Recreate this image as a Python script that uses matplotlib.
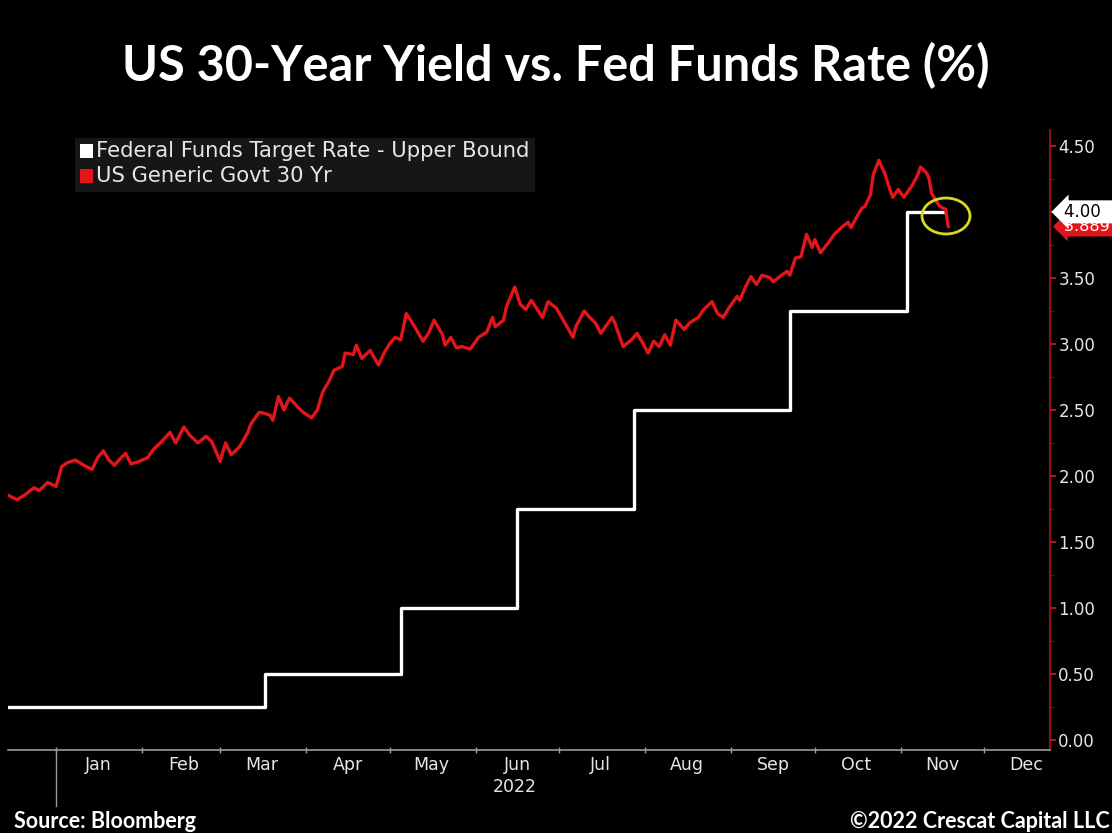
import matplotlib
matplotlib.use("Agg")
import matplotlib.pyplot as plt
import matplotlib.dates as mdates
from matplotlib.patches import Circle, Rectangle
from matplotlib.lines import Line2D
import numpy as np
import pandas as pd

# ---------------------------------------------------------------------------
# Data
# ---------------------------------------------------------------------------
yield_dates = [
    "2021-12-15", "2021-12-18", "2021-12-21", "2021-12-24", "2021-12-26", "2021-12-29",
    "2022-01-01", "2022-01-03", "2022-01-05", "2022-01-08", "2022-01-11", "2022-01-14",
    "2022-01-16", "2022-01-18", "2022-01-20", "2022-01-22", "2022-01-24", "2022-01-26",
    "2022-01-28", "2022-01-31", "2022-02-03", "2022-02-05", "2022-02-08", "2022-02-11",
    "2022-02-13", "2022-02-16", "2022-02-18", "2022-02-21", "2022-02-24", "2022-02-26",
    "2022-03-01", "2022-03-03", "2022-03-05", "2022-03-08", "2022-03-11", "2022-03-12",
    "2022-03-15", "2022-03-16", "2022-03-19", "2022-03-20", "2022-03-22", "2022-03-24",
    "2022-03-26", "2022-03-29", "2022-03-31", "2022-04-03", "2022-04-05", "2022-04-07",
    "2022-04-09", "2022-04-11", "2022-04-14", "2022-04-15", "2022-04-18", "2022-04-19",
    "2022-04-21", "2022-04-24", "2022-04-27", "2022-04-29", "2022-05-01", "2022-05-03",
    "2022-05-05", "2022-05-07", "2022-05-10", "2022-05-13", "2022-05-15", "2022-05-17",
    "2022-05-20", "2022-05-21", "2022-05-23", "2022-05-25", "2022-05-27", "2022-05-30",
    "2022-06-02", "2022-06-05", "2022-06-07", "2022-06-08", "2022-06-11", "2022-06-12",
    "2022-06-15", "2022-06-17", "2022-06-19", "2022-06-21", "2022-06-25", "2022-06-27",
    "2022-06-30", "2022-07-03", "2022-07-06", "2022-07-07", "2022-07-10", "2022-07-12",
    "2022-07-14", "2022-07-16", "2022-07-20", "2022-07-21", "2022-07-24", "2022-07-27",
    "2022-07-29", "2022-07-31", "2022-08-02", "2022-08-04", "2022-08-06", "2022-08-08",
    "2022-08-10", "2022-08-12", "2022-08-15", "2022-08-17", "2022-08-20", "2022-08-22",
    "2022-08-25", "2022-08-27", "2022-08-29", "2022-08-31", "2022-09-03", "2022-09-04",
    "2022-09-06", "2022-09-08", "2022-09-10", "2022-09-12", "2022-09-15", "2022-09-16",
    "2022-09-19", "2022-09-21", "2022-09-22", "2022-09-24", "2022-09-26", "2022-09-28",
    "2022-09-30", "2022-10-01", "2022-10-03", "2022-10-06", "2022-10-08", "2022-10-11",
    "2022-10-13", "2022-10-14", "2022-10-16", "2022-10-18", "2022-10-19", "2022-10-21",
    "2022-10-22", "2022-10-24", "2022-10-26", "2022-10-28", "2022-10-29", "2022-10-31",
    "2022-11-02", "2022-11-05", "2022-11-07", "2022-11-08", "2022-11-10", "2022-11-11",
    "2022-11-12", "2022-11-14", "2022-11-15", "2022-11-17", "2022-11-18",
]
yield_30y = [
    1.85, 1.82, 1.86, 1.91, 1.89, 1.95,
    1.92, 2.07, 2.10, 2.12, 2.08, 2.05,
    2.14, 2.19, 2.12, 2.08, 2.13, 2.17,
    2.09, 2.11, 2.14, 2.20, 2.26, 2.33,
    2.25, 2.37, 2.31, 2.25, 2.30, 2.26,
    2.11, 2.25, 2.16, 2.22, 2.33, 2.39,
    2.48, 2.48, 2.46, 2.42, 2.60, 2.50,
    2.59, 2.52, 2.48, 2.44, 2.50, 2.64,
    2.71, 2.80, 2.83, 2.93, 2.92, 2.99,
    2.89, 2.95, 2.84, 2.93, 3.00, 3.05,
    3.03, 3.23, 3.13, 3.02, 3.08, 3.18,
    3.07, 2.99, 3.05, 2.97, 2.98, 2.96,
    3.05, 3.09, 3.20, 3.13, 3.18, 3.28,
    3.43, 3.30, 3.26, 3.33, 3.20, 3.32,
    3.27, 3.16, 3.05, 3.13, 3.25, 3.20,
    3.16, 3.08, 3.20, 3.16, 2.98, 3.03,
    3.08, 3.01, 2.93, 3.02, 2.98, 3.07,
    2.99, 3.18, 3.11, 3.16, 3.20, 3.26,
    3.32, 3.23, 3.20, 3.27, 3.36, 3.33,
    3.43, 3.51, 3.45, 3.52, 3.50, 3.47,
    3.52, 3.55, 3.52, 3.65, 3.66, 3.83,
    3.73, 3.79, 3.69, 3.77, 3.83, 3.89,
    3.92, 3.88, 3.96, 4.03, 4.04, 4.13,
    4.28, 4.39, 4.30, 4.17, 4.11, 4.17,
    4.11, 4.20, 4.28, 4.34, 4.30, 4.26,
    4.14, 4.07, 4.04, 4.02, 3.889,
]

fed_dates = ["2021-12-15", "2022-03-17", "2022-05-05", "2022-06-16",
             "2022-07-28", "2022-09-22", "2022-11-03", "2022-11-17"]
fed_upper = [0.25, 0.50, 1.00, 1.75, 2.50, 3.25, 4.00, 4.00]

month_labels = ["Jan", "Feb", "Mar", "Apr", "May", "Jun",
                "Jul", "Aug", "Sep", "Oct", "Nov", "Dec"]
y_ticks = [0.0, 0.5, 1.0, 1.5, 2.0, 2.5, 3.0, 3.5, 4.0, 4.5]

yd = pd.to_datetime(yield_dates)
fd = pd.to_datetime(fed_dates)

# ---------------------------------------------------------------------------
# Figure
# ---------------------------------------------------------------------------
BG = "#000000"
RED = "#e3151a"
TXT = "#e6e6e6"

fig = plt.figure(figsize=(11.12, 8.33), dpi=100, facecolor=BG)
ax = fig.add_axes([8 / 1112, 83 / 833, 1042 / 1112, 620 / 833], facecolor=BG)

ax.step(fd, fed_upper, where="post", color="white", lw=2.4, zorder=3)
ax.plot(yd, yield_30y, color=RED, lw=2.4, zorder=4)

# x range: mid-Dec 2021 to late Dec 2022
jan1 = mdates.date2num(pd.Timestamp("2022-01-01"))
ax.set_xlim(jan1 - 17.3, jan1 + 357.6)
ax.set_ylim(-0.076, 4.62)

# spines
for s in ["left", "top"]:
    ax.spines[s].set_visible(False)
ax.spines["bottom"].set_color("#9a9a9a")
ax.spines["bottom"].set_linewidth(1.2)
ax.spines["right"].set_color("#b01218")
ax.spines["right"].set_linewidth(1.2)

# right value axis
ax.yaxis.tick_right()
ax.set_yticks(y_ticks)
ax.set_yticklabels([f"{v:.2f}" for v in y_ticks])
ax.set_yticks(np.arange(0.25, 4.5, 0.5), minor=True)
ax.tick_params(axis="y", which="major", colors=RED, length=4, width=1.2,
               labelcolor=TXT, labelsize=12, pad=2)
ax.tick_params(axis="y", which="minor", colors="#6a0a0d", length=3, width=1)

# month ticks at month starts, labels at mid-month
month_starts = pd.date_range("2022-01-01", "2022-12-01", freq="MS")
month_mids = month_starts + pd.Timedelta(days=15)
ax.set_xticks(month_starts)
ax.set_xticklabels([""] * len(month_starts))
ax.set_xticks(month_mids, minor=True)
ax.set_xticklabels(month_labels, minor=True)
ax.tick_params(axis="x", which="major", colors="#9a9a9a", length=4,
               direction="inout", width=1)
ax.tick_params(axis="x", which="minor", length=0, labelcolor=TXT,
               labelsize=12.5, pad=4)

# year separator and year label
ax.add_line(Line2D([jan1, jan1], [-0.076, -0.5], color="#9a9a9a", lw=1,
                   clip_on=False))
ax.text(mdates.date2num(pd.Timestamp("2022-06-15")), -0.355, "2022",
        ha="center", va="center", color=TXT, fontsize=12.5)

# legend block
fig.patches.append(Rectangle((75 / 1112, 1 - 192 / 833), 460 / 1112, 54 / 833,
                             transform=fig.transFigure, facecolor="#161616",
                             edgecolor="none", zorder=1))
legend_items = [("Federal Funds Target Rate - Upper Bound", "white"),
                ("US Generic Govt 30 Yr", RED)]
for i, (name, col) in enumerate(legend_items):
    yc = 1 - (151 + 25 * i) / 833
    fig.patches.append(Rectangle((80 / 1112, yc - 7 / 833), 13 / 1112, 14 / 833,
                                 transform=fig.transFigure, facecolor=col,
                                 edgecolor="none", zorder=2))
    fig.text(96 / 1112, yc, name, color=TXT, fontsize=15.2, va="center",
             family="DejaVu Sans", zorder=3)

# last-value tags on the value axis
tagx = ax.get_yaxis_transform()
ax.text(1.013, 3.889, "3.889  ", transform=tagx, color="white", fontsize=11.5,
        va="center", ha="left", zorder=5, clip_on=False,
        bbox=dict(boxstyle="larrow,pad=0.15", fc=RED, ec="none"))
ax.text(1.013, 4.00, "4.00  ", transform=tagx, color="black", fontsize=12,
        va="center", ha="left", zorder=6, clip_on=False,
        bbox=dict(boxstyle="larrow,pad=0.15", fc="white", ec="none"))

# highlight ring around the latest prints
fig.patches.append(Circle((946 / 1112, 1 - 216 / 833), 24 / 1112,
                          transform=fig.transFigure, fill=False,
                          edgecolor="#d8d820", lw=2))

# title and footer
fig.text(0.5, 1 - 66 / 833, "US 30-Year Yield vs. Fed Funds Rate (%)",
         ha="center", va="center", color="white", fontsize=35,
         fontweight="bold", family="Lato")
fig.text(14 / 1112, 1 - 821 / 833, "Source: Bloomberg", ha="left",
         va="center", color="white", fontsize=15.5, fontweight="bold",
         family="Lato")
fig.text(1110 / 1112, 1 - 821 / 833, "\u00a92022 Crescat Capital LLC",
         ha="right", va="center", color="white", fontsize=15.5,
         fontweight="bold", family="Lato")

fig.savefig("out.png", dpi=100, facecolor=BG)
